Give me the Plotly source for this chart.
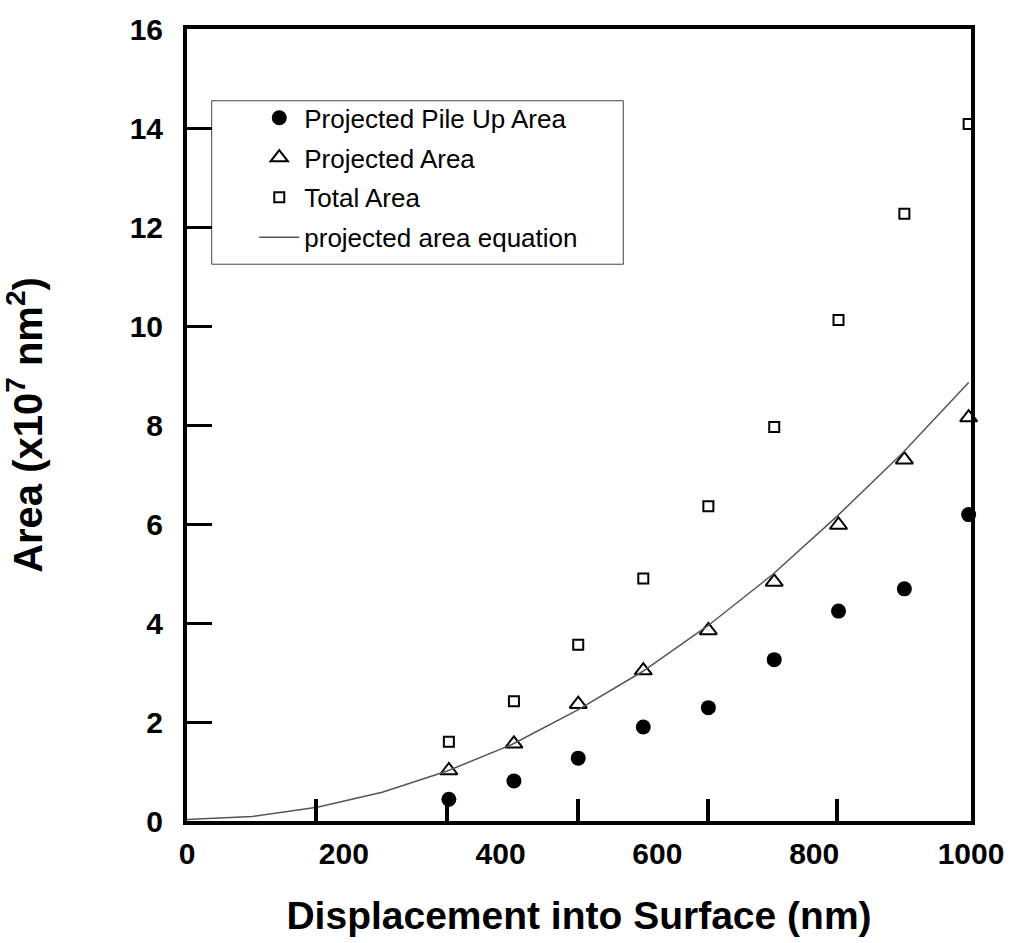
import plotly.graph_objects as go

# ---- data ----
depth_nm = [334, 417, 499, 582, 665, 749, 831, 915, 997]
pile_up_area = [0.44, 0.81, 1.27, 1.90, 2.29, 3.26, 4.24, 4.69, 6.19]
projected_area = [1.02, 1.56, 2.36, 3.04, 3.85, 4.83, 5.98, 7.30, 8.15]
total_area = [1.60, 2.42, 3.56, 4.90, 6.36, 7.96, 10.12, 12.27, 14.08]
eq_depth_nm = [0, 83, 166, 249, 332, 415, 498, 581, 664, 747, 830, 913, 997]
eq_area = [0.03, 0.09, 0.28, 0.58, 1.01, 1.55, 2.24, 3.02, 3.94, 4.98, 6.17, 7.44, 8.86]
x_label_vals = [0, 200, 400, 600, 800, 1000]
x_mark_vals = [164, 331, 499, 665, 829]
y_tick_vals = [0, 2, 4, 6, 8, 10, 12, 14, 16]

FONT = "Liberation Sans, Arial, sans-serif"

fig = go.Figure()
fig.add_trace(go.Scatter(
    x=depth_nm, y=pile_up_area, mode="markers", name="Projected Pile Up Area",
    legendgroup="a", cliponaxis=False,
    marker=dict(symbol="circle", size=15, color="black", line=dict(width=0))))
fig.add_trace(go.Scatter(
    x=depth_nm, y=projected_area, mode="markers", name="Projected Area",
    legendgroup="b", cliponaxis=False,
    marker=dict(symbol="triangle-up-open", size=15, color="black", line=dict(width=2))))
fig.add_trace(go.Scatter(
    x=depth_nm, y=total_area, mode="markers", name="Total Area",
    legendgroup="c", cliponaxis=False,
    marker=dict(symbol="square-open", size=10, color="black", line=dict(width=2))))
fig.add_trace(go.Scatter(
    x=eq_depth_nm, y=eq_area, mode="lines", name="projected area equation",
    legendgroup="d", line=dict(color="#555555", width=1.5)))

fig.update_layout(
    width=1016, height=943,
    margin=dict(l=187, r=36.5, t=26, b=122),
    paper_bgcolor="white", plot_bgcolor="white",
    font=dict(family=FONT, color="black"),
    showlegend=True,
    legend=dict(
        x=0.0858, y=0.9175, xanchor="left", yanchor="top",
        bgcolor="rgba(0,0,0,0)", borderwidth=0,
        font=dict(family=FONT, size=26, color="black"),
        itemwidth=40, tracegroupgap=3, traceorder="grouped"),
    xaxis=dict(
        range=[0, 1000], tickmode="array", tickvals=x_label_vals,
        ticks="", showgrid=False, zeroline=False,
        showline=True, linewidth=4, linecolor="black", mirror=True,
        tickfont=dict(family=FONT, size=30, weight="bold"),
        ticklabelstandoff=3,
        title=dict(text="Displacement into Surface (nm)",
                   font=dict(family=FONT, size=39, weight="bold"), standoff=34)),
    xaxis2=dict(
        range=[0, 1000], overlaying="x", anchor="y", side="bottom",
        tickmode="array", tickvals=x_mark_vals, ticks="inside",
        ticklen=22, tickwidth=4, tickcolor="black",
        showticklabels=False, showgrid=False, zeroline=False, showline=False),
    yaxis=dict(
        range=[0, 16], tickmode="array", tickvals=y_tick_vals,
        ticks="inside", ticklen=25, tickwidth=3, tickcolor="black",
        showgrid=False, zeroline=False,
        showline=True, linewidth=4, linecolor="black", mirror=True,
        tickfont=dict(family=FONT, size=30, weight="bold"),
        ticklabelstandoff=14,
        title=dict(text="Area (x10<sup>7</sup> nm<sup>2</sup>)",
                   font=dict(family=FONT, size=40, weight="bold"), standoff=76)),
    shapes=[dict(type="rect", xref="paper", yref="paper",
                 x0=0.0315, x1=0.5565, y0=0.703, y1=0.9094,
                 line=dict(color="#444444", width=1), fillcolor="white",
                 layer="below")],
)
# dummy trace to activate the tick-mark axis
fig.add_trace(go.Scatter(x=[None], y=[None], xaxis="x2", yaxis="y",
                         showlegend=False, hoverinfo="skip"))

fig.write_html("out.html")
